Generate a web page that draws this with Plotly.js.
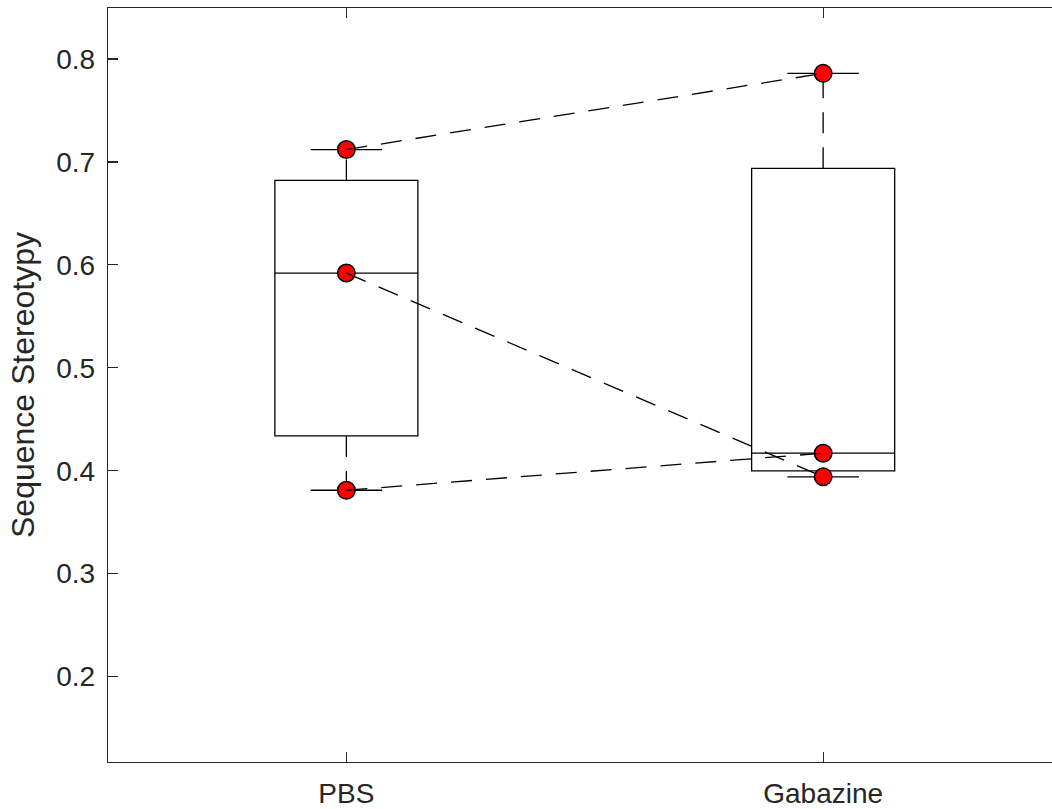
<!DOCTYPE html>
<html>
<head>
<meta charset="utf-8">
<script src="https://cdn.plot.ly/plotly-3.0.1.min.js"></script>
<style>
  html, body { margin: 0; padding: 0; background: #ffffff; }
  #chart { width: 1052px; height: 809px; }
</style>
</head>
<body>
<div id="chart"></div>
<script>
// ---- data ----
const categories = ['PBS', 'Gabazine'];
const categoryPositions = [1, 2];
const pbsValues = [0.712, 0.592, 0.381];
const gabazineValues = [0.786, 0.394, 0.417];
const yTickValues = [0.2, 0.3, 0.4, 0.5, 0.6, 0.7, 0.8];
const yAxisTitle = 'Sequence Stereotypy';

const groups = [pbsValues, gabazineValues];

// MATLAB-style percentile (midpoint positions, linear interpolation)
function prctile(values, p) {
  const s = values.slice().sort((a, b) => a - b);
  const n = s.length;
  const pos = s.map((_, i) => 100 * (i + 0.5) / n);
  if (p <= pos[0]) return s[0];
  if (p >= pos[n - 1]) return s[n - 1];
  for (let i = 0; i < n - 1; i++) {
    if (p >= pos[i] && p <= pos[i + 1]) {
      const t = (p - pos[i]) / (pos[i + 1] - pos[i]);
      return s[i] + t * (s[i + 1] - s[i]);
    }
  }
  return s[n - 1];
}

const stats = groups.map(v => {
  const q1 = prctile(v, 25), med = prctile(v, 50), q3 = prctile(v, 75);
  const iqr = q3 - q1;
  const hi = Math.max(...v.filter(x => x <= q3 + 1.5 * iqr));
  const lo = Math.min(...v.filter(x => x >= q1 - 1.5 * iqr));
  return { q1, med, q3, hi, lo };
});

const BOX_W = 0.3;
const CAP_HALF = BOX_W / 4;
const INK = '#000000';
const AXIS = '#262626';
const DASH = '21px,14px';
const LW = 1.3;

const traces = [];

// boxes (no built-in whiskers; whiskers drawn dashed below)
traces.push({
  type: 'box',
  x: categoryPositions,
  q1: stats.map(s => s.q1),
  median: stats.map(s => s.med),
  q3: stats.map(s => s.q3),
  lowerfence: stats.map(s => s.q1),
  upperfence: stats.map(s => s.q3),
  width: BOX_W,
  whiskerwidth: 0,
  boxpoints: false,
  fillcolor: 'rgba(0,0,0,0)',
  line: { color: INK, width: LW },
  hoverinfo: 'skip',
  showlegend: false
});

// dashed whiskers, drawn from the box outward
stats.forEach((s, i) => {
  const xp = categoryPositions[i];
  traces.push({
    type: 'scatter', mode: 'lines',
    x: [xp, xp], y: [s.q3, s.hi],
    line: { color: INK, width: LW, dash: DASH },
    hoverinfo: 'skip', showlegend: false
  });
  traces.push({
    type: 'scatter', mode: 'lines',
    x: [xp, xp], y: [s.q1, s.lo],
    line: { color: INK, width: LW, dash: DASH },
    hoverinfo: 'skip', showlegend: false
  });
});

// whisker caps
const capX = [], capY = [];
stats.forEach((s, i) => {
  const xp = categoryPositions[i];
  [s.hi, s.lo].forEach(v => {
    capX.push(xp - CAP_HALF, xp + CAP_HALF, null);
    capY.push(v, v, null);
  });
});
traces.push({
  type: 'scatter', mode: 'lines',
  x: capX, y: capY,
  line: { color: INK, width: LW },
  hoverinfo: 'skip', showlegend: false
});

// data points
const ptX = [], ptY = [];
groups.forEach((g, i) => g.forEach(v => { ptX.push(categoryPositions[i]); ptY.push(v); }));
traces.push({
  type: 'scatter', mode: 'markers',
  x: ptX, y: ptY,
  marker: { color: '#ff0000', size: 17.5, line: { color: INK, width: 1.5 } },
  showlegend: false
});

// paired dashed lines (drawn on top of markers)
pbsValues.forEach((v, i) => {
  traces.push({
    type: 'scatter', mode: 'lines',
    x: [categoryPositions[0], categoryPositions[1]],
    y: [v, gabazineValues[i]],
    line: { color: INK, width: LW, dash: DASH },
    hoverinfo: 'skip', showlegend: false
  });
});

const FONT = '"Liberation Sans", Arial, Helvetica, sans-serif';

const layout = {
  width: 1052,
  height: 809,
  margin: { l: 108, r: 0, t: 7.5, b: 47 },
  paper_bgcolor: '#ffffff',
  plot_bgcolor: '#ffffff',
  showlegend: false,
  font: { family: FONT, color: AXIS, size: 28 },
  xaxis: {
    range: [0.5, 2.48],
    tickmode: 'array',
    tickvals: categoryPositions,
    ticktext: categories,
    ticks: 'inside',
    ticklen: 10,
    tickwidth: LW,
    tickcolor: AXIS,
    showline: true,
    linecolor: AXIS,
    linewidth: LW,
    mirror: 'ticks',
    showgrid: false,
    zeroline: false,
    automargin: false,
    ticklabelstandoff: 6,
    tickfont: { family: FONT, size: 28, color: AXIS }
  },
  yaxis: {
    range: [0.117, 0.8495],
    tickmode: 'array',
    tickvals: yTickValues,
    ticktext: yTickValues.map(v => v.toFixed(1)),
    ticks: 'inside',
    ticklen: 10,
    tickwidth: LW,
    tickcolor: AXIS,
    showline: true,
    linecolor: AXIS,
    linewidth: LW,
    mirror: false,
    showgrid: false,
    zeroline: false,
    automargin: false,
    ticklabelstandoff: 6,
    tickfont: { family: FONT, size: 28, color: AXIS },
    title: { text: yAxisTitle, font: { family: FONT, size: 32, color: AXIS }, standoff: 12 }
  }
};

Plotly.newPlot('chart', traces, layout, { displayModeBar: false, staticPlot: true });
</script>
</body>
</html>
